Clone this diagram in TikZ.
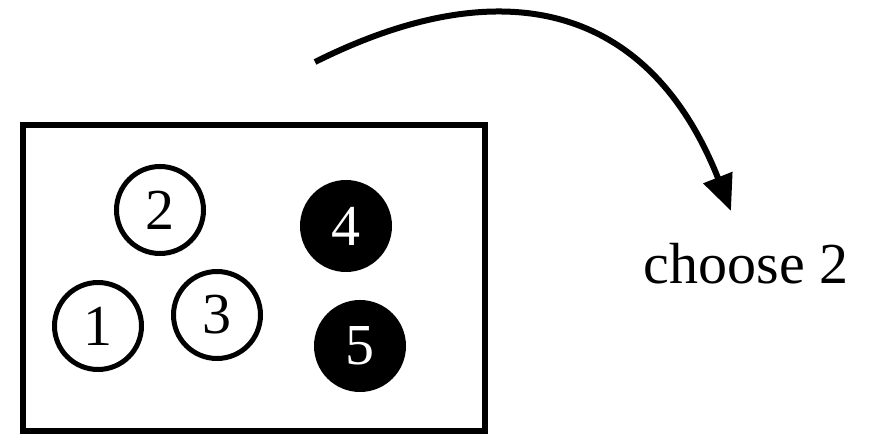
\documentclass[tikz,border=0pt]{standalone}
\usepackage{fontspec}
\setmainfont{Liberation Serif}
\usetikzlibrary{arrows.meta}
\tikzset{
  ball/.style={circle, draw, line width=5pt, minimum size=87pt, inner sep=0pt,
    font=\fontsize{58}{58}\selectfont},
  whiteball/.style={ball, fill=white},
  blackball/.style={ball, fill=black, text=white},
}
\begin{document}
\begin{tikzpicture}[x=1pt,y=-1pt]
\useasboundingbox (0,0) rectangle (869,435);
% 袋子
\draw[line width=6pt] (23,125) rectangle (485,431);
\node[whiteball] (ball1) at (98,326) {1};
\node[whiteball] (ball2) at (160,210) {2};
\node[whiteball] (ball3) at (217,315) {3};
\node[blackball] (ball4) at (346,226) {4};
\node[blackball] (ball5) at (360,346) {5};

% 取出两个
\coordinate (arcstart) at (315,62);
\coordinate (arctip) at (731,211);
\draw[line width=6pt, -{Triangle[length=36pt,width=30pt]}]
  (arcstart) .. controls (505,-33) and (650,6) .. (arctip);
\node[font=\fontsize{58}{58}\selectfont] (pick) at (746,264) {choose 2};
\end{tikzpicture}
\end{document}
